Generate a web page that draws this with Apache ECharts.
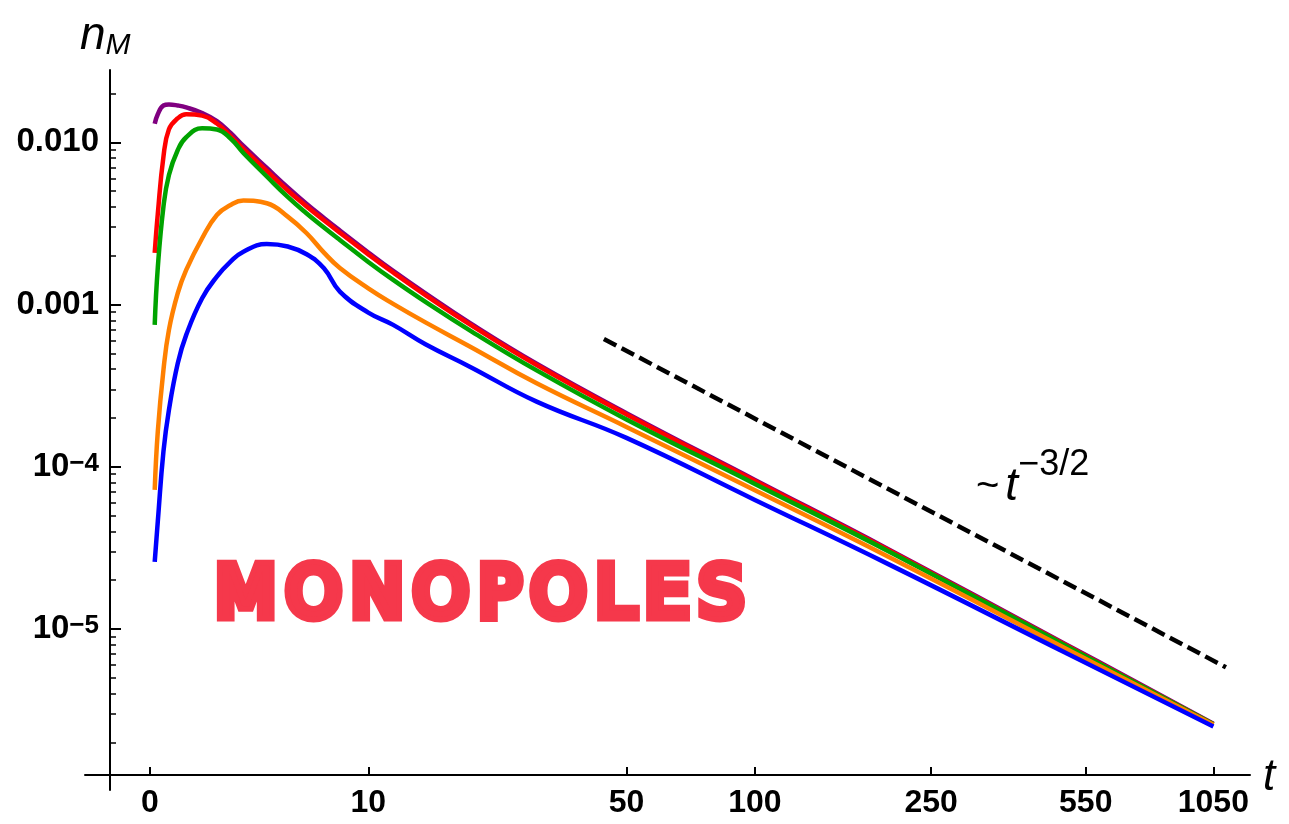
<!DOCTYPE html>
<html>
<head>
<meta charset="utf-8">
<script src="https://cdn.jsdelivr.net/npm/echarts@6/dist/echarts.min.js"></script>
<style>
  html, body { margin: 0; padding: 0; background: #ffffff; }
  #chart { width: 1289px; height: 824px; }
</style>
</head>
<body>
<div id="chart"></div>
<script>
// Time samples shared by all monopole density curves
const tSamples = [0.12, 0.2, 0.35, 0.5, 0.75, 1, 1.5, 2, 2.5, 3, 4, 5, 6, 7, 8, 10, 12, 15, 20, 30, 50, 100, 200, 500, 1050];

// Monopole number density n_M(t) for the five runs
const nPurple = [1.30e-2, 1.49e-2, 1.685e-2, 1.71e-2, 1.685e-2, 1.64e-2, 1.515e-2, 1.353e-2, 1.141e-2, 9.49e-3, 6.945e-3, 5.267e-3, 4.167e-3, 3.417e-3, 2.861e-3, 2.094e-3, 1.611e-3, 1.171e-3, 7.70e-4, 4.317e-4, 2.142e-4, 8.30e-5, 3.12e-5, 7.99e-6, 2.605e-6];
const nRed    = [2.08e-3, 3.62e-3, 8.15e-3, 1.202e-2, 1.405e-2, 1.488e-2, 1.459e-2, 1.305e-2, 1.093e-2, 9.093e-3, 6.656e-3, 5.047e-3, 4.022e-3, 3.307e-3, 2.769e-3, 2.039e-3, 1.575e-3, 1.144e-3, 7.55e-4, 4.239e-4, 2.103e-4, 8.18e-5, 3.08e-5, 7.88e-6, 2.587e-6];
const nGreen  = [7.49e-4, 1.688e-3, 4.01e-3, 6.29e-3, 8.97e-3, 1.074e-2, 1.22e-2, 1.199e-2, 1.055e-2, 8.592e-3, 6.155e-3, 4.603e-3, 3.642e-3, 2.985e-3, 2.500e-3, 1.830e-3, 1.418e-3, 1.038e-3, 6.925e-4, 3.926e-4, 1.959e-4, 7.84e-5, 3.03e-5, 7.82e-6, 2.59e-6];
const nOrange = [7.21e-5, 1.648e-4, 3.95e-4, 6.98e-4, 1.174e-3, 1.634e-3, 2.562e-3, 3.565e-3, 4.11e-3, 4.37e-3, 4.21e-3, 3.48e-3, 2.75e-3, 2.09e-3, 1.68e-3, 1.257e-3, 1.009e-3, 7.76e-4, 5.52e-4, 3.27e-4, 1.761e-4, 7.16e-5, 2.80e-5, 7.52e-6, 2.568e-6];
const nBlue   = [2.594e-5, 4.60e-5, 1.241e-4, 2.242e-4, 4.35e-4, 6.50e-4, 1.093e-3, 1.486e-3, 1.838e-3, 2.118e-3, 2.362e-3, 2.280e-3, 2.040e-3, 1.674e-3, 1.201e-3, 8.92e-4, 7.49e-4, 5.69e-4, 4.14e-4, 2.52e-4, 1.507e-4, 6.25e-5, 2.521e-5, 7.07e-6, 2.507e-6];

// Reference power law ~ t^(-3/2), end points
const guideT = [44.1, 1119];
const guideN = [6.14e-4, 5.81e-6];

// Axis ticks
const xTickT = [0, 10, 50, 100, 250, 550, 1050];
const xTickLabels = ['0', '10', '50', '100', '250', '550', '1050'];
const yTickN = [1e-2, 1e-3, 1e-4, 1e-5];
const yTickBase = ['0.010', '0.001', '10', '10'];
const yTickExp = ['', '', '\u22124', '\u22125'];

// Horizontal scale is logarithmic in (t + 5), vertical scale is log10 n
const T_SHIFT = 5;
const ux = t => Math.log10(t + T_SHIFT);
const uy = n => Math.log10(n);

const X_MIN = 0.55689, X_MAX = 3.10334;
const Y_MIN = -5.99199, Y_MAX = -1.55453;

const yMinor = [];
for (let d = -6; d <= -2; d++) {
  for (let k = 2; k <= 9; k++) {
    const v = Math.log10(k) + d;
    if (v > Y_MIN && v < Y_MAX) yMinor.push(v);
  }
}

const FONT = '"Liberation Sans", Arial, sans-serif';

function curve(ns, color) {
  return {
    type: 'line',
    data: tSamples.map((t, i) => [ux(t), uy(ns[i])]),
    symbol: 'none',
    smooth: 0.45,
    clip: false,
    silent: true,
    lineStyle: { color: color, width: 4.5, cap: 'butt', join: 'round' }
  };
}

function nearestIndex(arr, v) {
  let best = 0, bd = Infinity;
  arr.forEach((a, i) => { const d = Math.abs(a - v); if (d < bd) { bd = d; best = i; } });
  return best;
}

const xTickPos = xTickT.map(ux);
const yTickPos = yTickN.map(uy);

// Hand-lettered annotation: one rich token per letter so the letters keep apart
const word = 'MONOPOLES';
const wordText = word.split('').map(c => '{w|' + c + '}').join('');

const chart = echarts.init(document.getElementById('chart'), null, { renderer: 'canvas' });

chart.setOption({
  animation: false,
  backgroundColor: '#ffffff',
  grid: { left: 85, right: 39, top: 70, bottom: 34, containLabel: false },
  xAxis: {
    type: 'value',
    min: X_MIN,
    max: X_MAX,
    offset: -15,
    axisLine: { show: true, lineStyle: { color: '#000', width: 2 } },
    axisTick: { show: true, inside: true, length: 8, customValues: xTickPos, lineStyle: { color: '#000', width: 2 } },
    axisLabel: {
      show: true,
      customValues: xTickPos,
      margin: 12,
      color: '#000',
      fontFamily: FONT,
      fontWeight: 'bold',
      fontSize: 32,
      formatter: v => xTickLabels[nearestIndex(xTickPos, v)]
    },
    splitLine: { show: false }
  },
  yAxis: [
    {
      type: 'value',
      position: 'left',
      min: Y_MIN,
      max: Y_MAX,
      offset: -25,
      axisLine: { show: true, lineStyle: { color: '#000', width: 2 } },
      axisTick: { show: true, inside: true, length: 11, customValues: yTickPos, lineStyle: { color: '#000', width: 2 } },
      axisLabel: {
        show: true,
        customValues: yTickPos,
        margin: 11,
        color: '#000',
        formatter: v => {
          const i = nearestIndex(yTickPos, v);
          return yTickExp[i] ? '{b|' + yTickBase[i] + '}{s|' + yTickExp[i] + '}' : '{b|' + yTickBase[i] + '}';
        },
        rich: {
          b: { fontFamily: FONT, fontWeight: 'bold', fontSize: 33, lineHeight: 32, color: '#000' },
          s: { fontFamily: FONT, fontWeight: 'bold', fontSize: 26, lineHeight: 20, verticalAlign: 'top', color: '#000' }
        }
      },
      splitLine: { show: false }
    },
    {
      type: 'value',
      position: 'left',
      min: Y_MIN,
      max: Y_MAX,
      offset: -25,
      axisLine: { show: false },
      axisTick: { show: true, inside: true, length: 6, customValues: yMinor, lineStyle: { color: '#000', width: 1.5 } },
      axisLabel: { show: false },
      splitLine: { show: false }
    }
  ],
  series: [
    curve(nPurple, '#800080'),
    curve(nRed, '#ff0000'),
    curve(nGreen, '#00a300'),
    curve(nOrange, '#ff8000'),
    curve(nBlue, '#0000ff'),
    {
      type: 'line',
      data: guideT.map((t, i) => [ux(t), uy(guideN[i])]),
      symbol: 'none',
      silent: true,
      clip: false,
      lineStyle: { color: '#000', width: 4.5, type: [14, 6], cap: 'butt' }
    }
  ],
  graphic: [
    {
      type: 'text',
      left: 80,
      top: 13,
      style: {
        text: '{n|n}{m|M}',
        rich: {
          n: { fontFamily: FONT, fontStyle: 'italic', fontSize: 46, lineHeight: 50, fill: '#000' },
          m: { fontFamily: FONT, fontStyle: 'italic', fontSize: 30, lineHeight: 28, verticalAlign: 'bottom', fill: '#000' }
        }
      }
    },
    {
      type: 'text',
      left: 1263,
      top: 756,
      style: { text: 't', font: 'italic 44px ' + FONT, fill: '#000' }
    },
    {
      type: 'text',
      left: 976,
      top: 447,
      style: {
        text: '{r|~}{i|t}{s|\u22123/2}',
        rich: {
          r: { fontFamily: FONT, fontSize: 40, lineHeight: 70, fill: '#000', padding: [0, 6, 0, 0] },
          i: { fontFamily: FONT, fontStyle: 'italic', fontSize: 46, lineHeight: 80, fill: '#000' },
          s: { fontFamily: FONT, fontSize: 36, lineHeight: 32, verticalAlign: 'top', fill: '#000' }
        }
      }
    },
    {
      type: 'text',
      left: 210,
      top: 557,
      style: {
        text: wordText,
        rich: {
          w: {
            fontFamily: '"DejaVu Sans", sans-serif',
            fontSize: 70,
            fill: '#f5384b',
            stroke: '#f5384b',
            lineWidth: 11,
            padding: [0, 5, 0, 5]
          }
        }
      }
    }
  ]
});
</script>
</body>
</html>
